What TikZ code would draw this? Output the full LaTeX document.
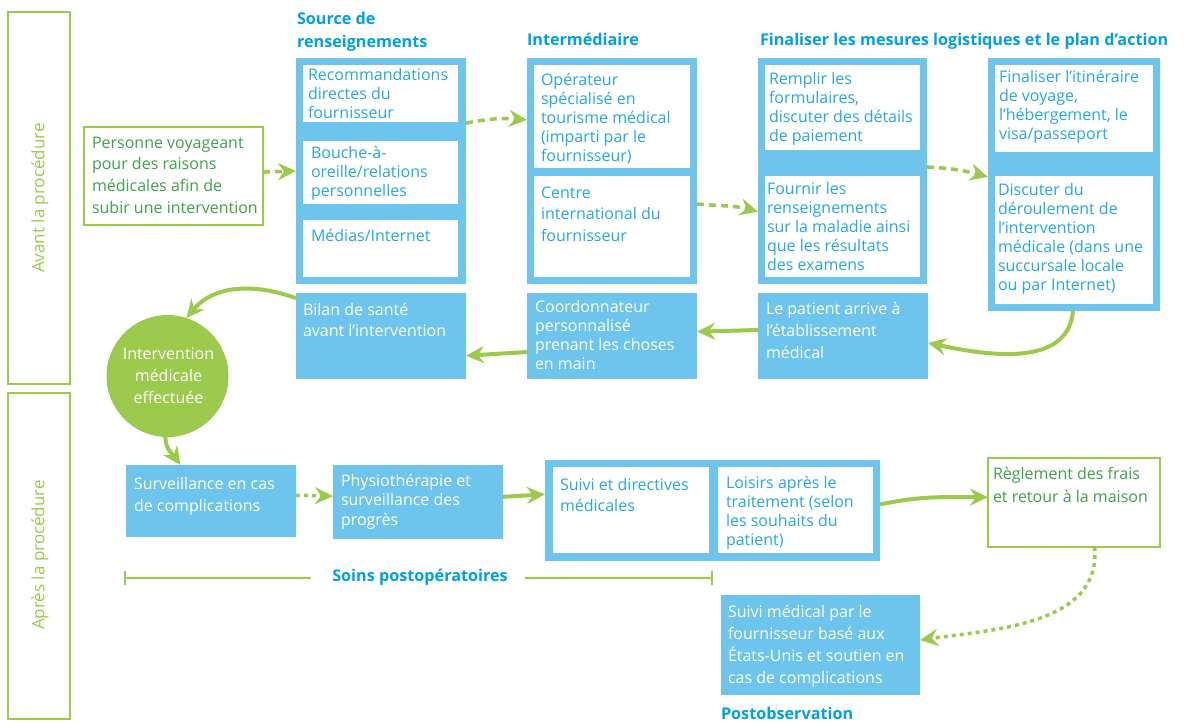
\documentclass[tikz,border=0pt]{standalone}
\usepackage{fontspec}
\setmainfont{Open Sans}
\usetikzlibrary{arrows.meta,calc}
\definecolor{bfill}{RGB}{109,196,237}
\definecolor{tblue}{RGB}{0,160,227}
\definecolor{iblue}{RGB}{38,168,226}
\definecolor{gr}{RGB}{156,202,76}
\definecolor{dgr}{RGB}{64,162,72}
\newcommand\mystrut{\rule{0pt}{13pt}}
\begin{document}
\begin{tikzpicture}[x=1pt,y=1pt,
 every node/.style={inner sep=0pt, outer sep=0pt},
 grp/.style={fill=bfill, anchor=north west},
 wbox/.style={fill=white, anchor=north west},
 gbox/.style={draw=gr, line width=2pt, fill=white, anchor=north west},
 band/.style={draw=gr, line width=2pt, anchor=north west},
 tx/.style={anchor=north west, align=left, font=\fontsize{16}{19}\selectfont},
 ttl/.style={anchor=north west, align=left, text=tblue, font=\bfseries\fontsize{16.2}{23}\selectfont},
 conn/.style={draw=gr, line width=4pt, -{Stealth[length=18pt,width=17pt,inset=6pt]}},
 dsh/.style={conn, line width=3.5pt, dash pattern=on 7pt off 5pt},
 dot/.style={conn, line width=3.5pt, dash pattern=on 4pt off 4pt},
]
\useasboundingbox (0,0) rectangle (1185,-721);

% bands
\node[band, minimum width=62pt, minimum height=372pt] (avant) at (8,-12) {};
\node[rotate=90, text=gr, font=\fontsize{17}{20}\selectfont] (avantl) at (40,-198) {Avant la procédure};
\node[band, minimum width=62pt, minimum height=326pt] (apres) at (8,-393) {};
\node[rotate=90, text=gr, font=\fontsize{17}{20}\selectfont] (apresl) at (40,-555) {Après la procédure};

% titles
\node[ttl] (t1) at (297,-11) {\mystrut Source de\\renseignements};
\node[ttl] (t2) at (527,-32) {\mystrut Intermédiaire};
\node[ttl] (t3) at (760,-32) {\mystrut Finaliser les mesures logistiques et le plan d’action};

% person
\node[gbox, minimum width=179pt, minimum height=98pt] (pers) at (84,-127) {};
\node[tx, text=dgr, font=\fontsize{16}{21.7}\selectfont] (perst) at (92,-135) {\mystrut Personne voyageant\\pour des raisons\\médicales afin de\\subir une intervention};

% source
\node[grp, minimum width=170pt, minimum height=226pt] (src) at (296,-58) {};
\node[wbox, minimum width=155pt, minimum height=57pt] (s1) at (303,-65) {};
\node[wbox, minimum width=155pt, minimum height=63pt] (s2) at (303,-141) {};
\node[wbox, minimum width=155pt, minimum height=57pt] (s3) at (303,-220) {};
\node[tx, text=iblue] (s1t) at (308,-67) {\mystrut Recommandations\\directes du\\fournisseur};
\node[tx, text=iblue] (s2t) at (311,-145) {\mystrut Bouche-à-\\oreille/relations\\personnelles};
\node[tx, text=iblue] (s3t) at (311,-228) {\mystrut Médias/Internet};

\node[grp, minimum width=170pt, minimum height=86pt] (bilan) at (296,-293) {};
\node[tx, text=white, font=\fontsize{16}{21}\selectfont] (bilant) at (303,-302) {\mystrut Bilan de santé\\avant l’intervention};

% intermediaire
\node[grp, minimum width=170pt, minimum height=226pt] (inter) at (527,-58) {};
\node[wbox, minimum width=156pt, minimum height=103pt] (i1) at (534,-65) {};
\node[wbox, minimum width=156pt, minimum height=101pt] (i2) at (534,-176) {};
\node[tx, text=iblue] (i1t) at (541,-72) {\mystrut Opérateur\\spécialisé en\\tourisme médical\\(imparti par le\\fournisseur)};
\node[tx, text=iblue, font=\fontsize{16}{21.5}\selectfont] (i2t) at (541,-185) {\mystrut Centre\\international du\\fournisseur};

\node[grp, minimum width=170pt, minimum height=86pt] (coord) at (527,-293) {};
\node[tx, text=white] (coordt) at (535,-299) {\mystrut Coordonnateur\\personnalisé\\prenant les choses\\en main};

% finaliser 1
\node[grp, minimum width=169pt, minimum height=226pt] (fin1) at (758,-58) {};
\node[wbox, minimum width=155pt, minimum height=85pt] (f1a) at (765,-65) {};
\node[wbox, minimum width=155pt, minimum height=101pt] (f1b) at (765,-176) {};
\node[tx, text=iblue] (f1at) at (769,-71) {\mystrut Remplir les\\formulaires,\\discuter des détails\\de paiement};
\node[tx, text=iblue] (f1bt) at (767,-181) {\mystrut Fournir les\\renseignements\\sur la maladie ainsi\\que les résultats\\des examens};

% finaliser 2
\node[grp, minimum width=172pt, minimum height=253pt] (fin2) at (988,-58) {};
\node[wbox, minimum width=158pt, minimum height=87pt] (f2a) at (995,-65) {};
\node[wbox, minimum width=158pt, minimum height=128pt] (f2b) at (995,-176) {};
\node[tx, text=iblue] (f2at) at (999,-69) {\mystrut Finaliser l’itinéraire\\de voyage,\\l’hébergement, le\\visa/passeport};
\node[tx, text=iblue] (f2bt) at (998,-182) {\mystrut Discuter du\\déroulement de\\l’intervention\\médicale (dans une\\succursale locale\\ou par Internet)};

\node[grp, minimum width=170pt, minimum height=86pt] (pat) at (758,-293) {};
\node[tx, text=white, font=\fontsize{16}{22}\selectfont] (patt) at (766,-301) {\mystrut Le patient arrive à\\l’établissement\\médical};

% circle
\node[circle, fill=gr, minimum size=122pt] (circ) at (167.5,-376) {};
\node[align=center, text=white, font=\fontsize{16}{22}\selectfont] (circt) at (168.5,-376) {Intervention\\médicale\\effectuée};

% lower row
\node[grp, minimum width=170pt, minimum height=72pt] (surv) at (126,-465) {};
\node[tx, text=white, font=\fontsize{16}{22}\selectfont] (survt) at (134,-476) {\mystrut Surveillance en cas\\de complications};
\node[grp, minimum width=170pt, minimum height=74pt] (phys) at (333,-465) {};
\node[tx, text=white, font=\fontsize{16}{19.5}\selectfont] (physt) at (341,-473) {\mystrut Physiothérapie et\\surveillance des\\progrès};
\node[grp, minimum width=335pt, minimum height=101pt] (suiv) at (545,-460) {};
\node[wbox, minimum width=156pt, minimum height=86pt] (sa) at (553,-467) {};
\node[wbox, minimum width=155pt, minimum height=86pt] (sb) at (718,-467) {};
\node[tx, text=iblue, font=\fontsize{16}{21}\selectfont] (sat) at (560,-477) {\mystrut Suivi et directives\\médicales};
\node[tx, text=iblue] (sbt) at (726,-475) {\mystrut Loisirs après le\\traitement (selon\\les souhaits du\\patient)};
\node[gbox, minimum width=172pt, minimum height=89pt] (regl) at (988,-458) {};
\node[tx, text=dgr, font=\fontsize{16}{23}\selectfont] (reglt) at (993,-466) {\mystrut Règlement des frais\\et retour à la maison};
\node[grp, minimum width=199pt, minimum height=100pt] (smed) at (721,-595) {};
\node[tx, text=white, font=\fontsize{16}{22}\selectfont] (smedt) at (728,-604) {\mystrut Suivi médical par le\\fournisseur basé aux\\États-Unis et soutien en\\cas de complications};
\node[ttl] (t4) at (721,-706) {\mystrut Postobservation};

% soins postoperatoires
\node[text=tblue, font=\bfseries\fontsize{16.2}{19}\selectfont] (soins) at (420,-577) {Soins postopératoires};
\coordinate (sl) at (125,-578);
\coordinate (sr) at (712,-578);
\draw[gr, line width=1.5pt] (sl) -- ($(soins.west)+(-21,-1)$);
\draw[gr, line width=1.5pt] ($(soins.east)+(17,-1)$) -- (sr);
\draw[gr, line width=1.5pt] ($(sl)+(0,7)$) -- ($(sl)+(0,-7)$);
\draw[gr, line width=1.5pt] ($(sr)+(0,7)$) -- ($(sr)+(0,-7)$);

% connectors
\draw[dsh] ($(pers.north east)!0.46!(pers.south east)$) -- ($(src.north west)!0.5!(src.south west)$);
\draw[dsh] ($(src.north east)!0.288!(src.south east)$) to[bend left=8] ($(inter.north west)!0.274!(inter.south west)$);
\draw[dsh] ($(inter.north east)!0.646!(inter.south east)$) to[out=-5, in=165] ($(fin1.north west)!0.68!(fin1.south west)$);
\draw[dsh] ($(fin1.north east)!0.482!(fin1.south east)$) to[bend left=6] ($(fin2.north west)!0.47!(fin2.south west)$);
\draw[conn] ($(fin2.south west)!0.494!(fin2.south east)$) to[out=-95, in=-12] ($(pat.north east)!0.58!(pat.south east)$);
\draw[conn] ($(pat.north west)!0.43!(pat.south west)$) -- ($(coord.north east)!0.45!(coord.south east)$);
\draw[conn] ($(coord.north west)!0.686!(coord.south west)$) -- ($(bilan.north east)!0.73!(bilan.south east)$);
\draw[conn] ($(bilan.north west)!0.06!(bilan.south west)$) to[out=160, in=50] (circ.72);
\draw[conn] (circ.-92) to[out=-90, in=125] ($(surv.north west)!0.32!(surv.north east)$);
\draw[dot] ($(surv.north east)!0.42!(surv.south east)$) -- ($(phys.north west)!0.42!(phys.south west)$);
\draw[conn] ($(phys.north east)!0.43!(phys.south east)$) -- ($(suiv.north west)!0.34!(suiv.south west)$);
\draw[conn] ($(suiv.north east)!0.44!(suiv.south east)$) to[out=12, in=180] ($(regl.north west)!0.44!(regl.south west)$);
\draw[dot] ($(regl.south west)!0.62!(regl.south east)$) to[out=-85, in=8] ($(smed.north east)!0.45!(smed.south east)$);
\end{tikzpicture}
\end{document}
